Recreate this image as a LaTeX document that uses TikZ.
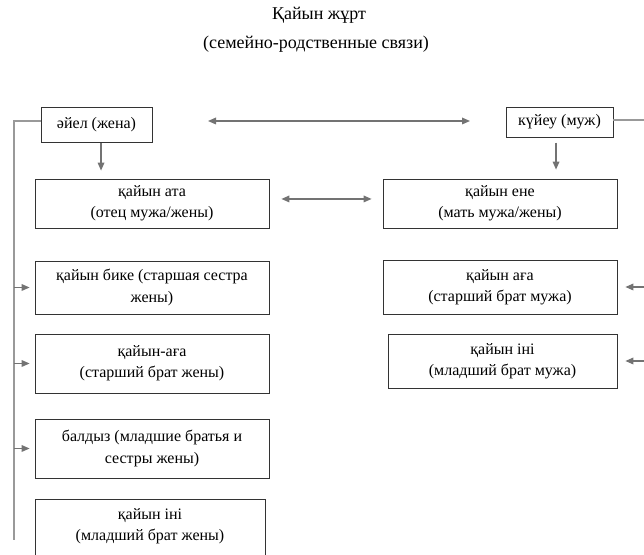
\documentclass[tikz,border=0pt]{standalone}
\usepackage{fontspec}
\setmainfont{Liberation Serif}
\usetikzlibrary{arrows.meta}

\begin{document}
\begin{tikzpicture}[x=0.75pt, y=-0.75pt,
every node/.style={align=center, font=\fontsize{12}{16}\selectfont, inner sep=1pt},
heading/.style={font=\fontsize{13.5}{16}\selectfont},
box/.style={draw=black!80, line width=0.6pt},
wide/.style={box, minimum width=175.5pt},
link/.style={draw=black!55, line width=0.9pt, -{Triangle[length=6pt,width=5pt]}},
dlink/.style={draw=black!55, line width=0.9pt, {Triangle[length=6pt,width=5pt]}-{Triangle[length=6pt,width=5pt]}},
rail/.style={draw=black!40, line width=0.8pt}
]
\clip (0,0) rectangle (644,555);

\node[heading] (title) at (319,15) {Қайын жұрт};
\node[heading] (subtitle) at (316,44) {(семейно-родственные связи)};

\node[box, minimum width=83.25pt, minimum height=26.25pt] (wife) at (96.5,124.5) {әйел (жена)};
\node[box, minimum width=80.25pt, minimum height=22.5pt] (husband) at (559.5,122) {күйеу (муж)};

\node[wide, minimum height=36.75pt] (ata) at (152,203.5) {қайын ата\\(отец мужа/жены)};
\node[wide, minimum height=39.75pt] (bike) at (152,287.5) {қайын бике (старшая сестра\\жены)};
\node[wide, minimum height=44.25pt] (agaW) at (152,363.5) {қайын-аға\\(старший брат жены)};
\node[wide, minimum height=44.25pt] (baldyz) at (152,448.5) {балдыз (младшие братья и\\сестры жены)};
\node[box, minimum width=172.5pt, minimum height=48pt, text depth=10pt] (iniW) at (150,531) {қайын іні\\(младший брат жены)};

\node[wide, minimum height=36.75pt] (ene) at (500,203.5) {қайын ене\\(мать мужа/жены)};
\node[wide, minimum height=40.5pt] (agaH) at (500,287) {қайын аға\\(старший брат мужа)};
\node[box, minimum width=171.75pt, minimum height=40.5pt] (iniH) at (502.5,361) {қайын іні\\(младший брат мужа)};

\coordinate (railL) at (14,121);
\coordinate (railLend) at (14,540);
\coordinate (railR) at (648,120);
\coordinate (railRend) at (648,400);
\coordinate (tl) at (208,121);
\coordinate (tr) at (470,121);

\draw[dlink] (tl) -- (tr);
\draw[dlink, shorten <=9pt, shorten >=8.25pt] ([yshift=3.4pt]ata.east) -- ([yshift=3.4pt]ene.west);
\draw[link, shorten <=0.75pt, shorten >=6pt] ([xshift=3.4pt]wife.south) -- ([xshift=3.4pt]wife.south |- ata.north);
\draw[link, shorten <=4pt, shorten >=6.75pt] ([xshift=-2.6pt]husband.south) -- ([xshift=-2.6pt]husband.south |- ene.north);

\draw[rail] (railL -| wife.west) -- (railL) -- (railLend);
\draw[rail] (railR -| husband.east) -- (railR) -- (railRend);

\foreach \i in {bike, agaW, baldyz}
    \draw[link, shorten >=3.75pt] (railL |- \i.west) -- (\i.west);
\foreach \i in {agaH, iniH}
    \draw[link, shorten >=6pt] (railR |- \i.east) -- (\i.east);

%\draw[rail] (railR) -- (railRend);
\end{tikzpicture}
\end{document}
